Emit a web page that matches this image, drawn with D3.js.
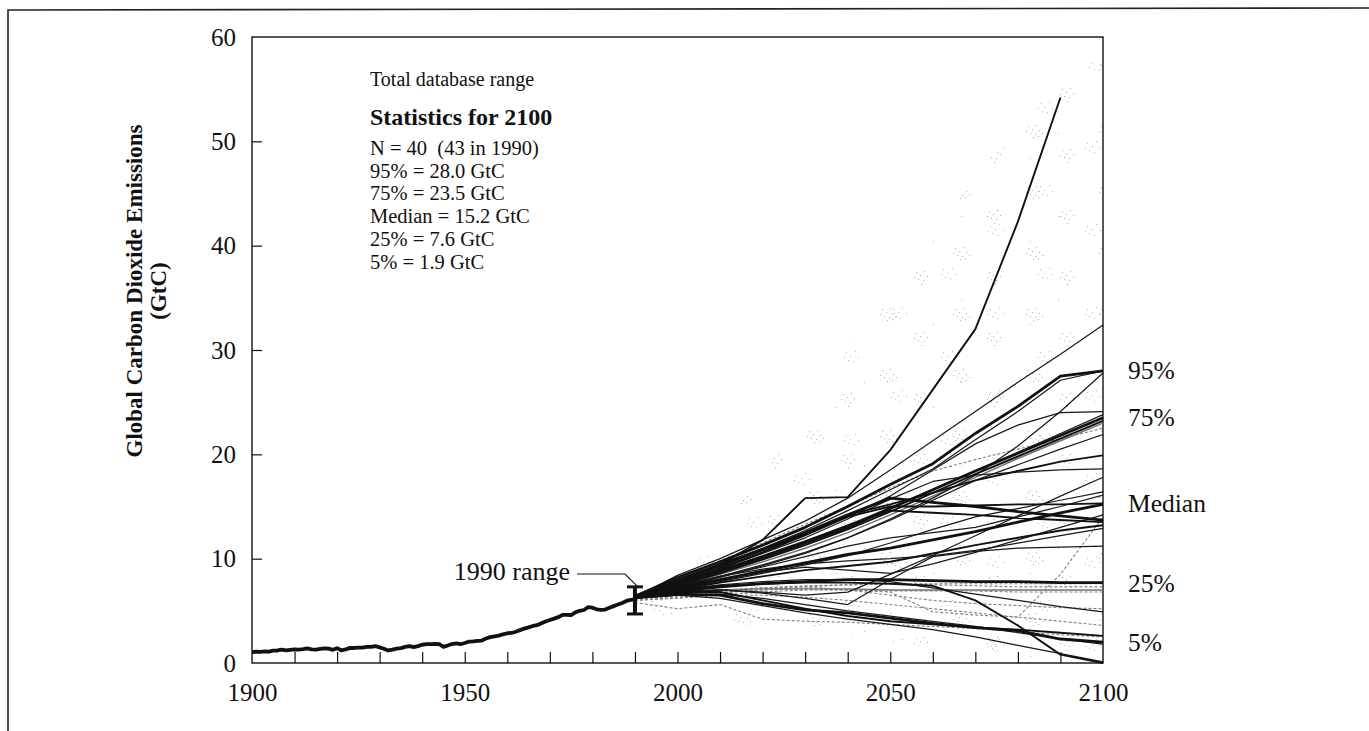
<!DOCTYPE html>
<html><head><meta charset="utf-8">
<script src="https://cdn.jsdelivr.net/npm/d3@7"></script>
<style>
html,body{margin:0;padding:0;background:#fff;}
svg{display:block;}
text{font-family:"Liberation Serif","Times New Roman",serif;fill:#111;white-space:pre;}
</style></head>
<body><svg id="c" width="1369" height="731"></svg>
<script>
// ---------- data ----------
const histYears = d3.range(1900, 1991);
const histValues = [1.05,1.08,1.06,1.12,1.10,1.18,1.20,1.28,1.22,1.26,
 1.30,1.28,1.33,1.40,1.30,1.28,1.36,1.40,1.38,1.26,
 1.42,1.22,1.30,1.45,1.44,1.48,1.47,1.55,1.54,1.62,
 1.50,1.36,1.20,1.28,1.38,1.42,1.55,1.62,1.52,1.62,
 1.75,1.80,1.80,1.82,1.80,1.55,1.68,1.82,1.88,1.80,
 1.92,2.05,2.08,2.12,2.15,2.35,2.48,2.55,2.62,2.75,
 2.85,2.88,3.00,3.15,3.30,3.42,3.55,3.62,3.80,3.98,
 4.12,4.25,4.40,4.62,4.62,4.60,4.85,5.00,5.08,5.35,
 5.30,5.15,5.10,5.12,5.30,5.45,5.60,5.75,5.95,6.05,6.10];

const scenYears = [1990,2000,2010,2020,2030,2040,2050,2060,2070,2080,2090,2100];
const scenarioValues = [
 [6.2,7.8,9.4,11.8,15.8,15.9,20.4,26.2,32.0,42.3,54.2,null],
 [6.3,8.4,10.0,11.8,13.6,15.8,18.5,21.3,24.1,26.9,29.6,32.4],
 [6.4,8.2,9.7,11.3,13.0,15.0,17.1,19.1,22.0,24.6,27.5,28.0],
 [6.3,8.0,9.5,11.0,12.7,14.6,16.6,18.6,21.4,24.1,27.1,28.0],
 [6.2,7.2,8.3,9.4,10.6,12.0,13.8,15.8,18.0,20.8,24.1,27.8],
 [6.3,7.9,9.2,10.6,12.2,14.0,16.0,18.5,21.0,22.8,24.0,24.1],
 [6.3,7.6,8.9,10.3,11.7,13.2,14.9,16.6,18.4,20.2,22.0,23.8],
 [6.3,7.5,8.8,10.1,11.5,13.0,14.8,16.6,18.4,20.1,21.8,23.5],
 [6.2,7.4,8.6,9.9,11.3,12.8,14.5,16.3,18.1,19.8,21.5,23.2],
 [6.2,7.3,8.5,9.7,11.0,12.5,14.2,16.0,17.8,19.6,21.3,23.0],
 [6.2,7.2,8.2,9.3,10.5,12.0,13.7,15.6,17.5,19.0,20.5,21.9],
 [6.3,7.8,9.3,10.8,12.3,14.2,15.2,16.3,17.5,18.4,19.3,19.9],
 [6.3,7.7,9.0,10.5,12.0,13.8,15.7,17.4,18.0,18.3,18.5,18.6],
 [6.3,6.8,7.0,6.8,6.5,6.8,8.5,10.3,12.2,14.1,16.0,17.8],
 [6.2,7.0,7.8,8.6,9.4,10.3,11.5,12.8,14.0,14.8,15.6,16.4],
 [6.3,7.3,8.3,9.2,10.2,11.2,12.0,12.5,13.0,14.0,15.0,16.1],
 [6.3,7.2,8.0,8.8,9.6,10.4,11.0,11.8,12.6,13.5,14.4,15.2],
 [6.2,6.5,6.8,7.0,7.1,7.0,6.8,4.9,4.6,4.4,8.5,14.0],
 [6.4,7.9,9.4,10.9,12.5,14.2,15.8,15.4,15.0,14.5,14.1,13.7],
 [6.3,7.6,8.9,10.2,11.6,13.2,14.6,14.4,14.2,13.9,13.7,13.5],
 [6.3,7.0,7.7,8.3,8.9,9.3,9.7,10.5,11.3,12.0,12.7,13.2],
 [6.3,6.9,7.0,6.7,6.2,5.6,8.0,10.2,10.7,11.0,11.1,11.2],
 [6.3,6.9,7.3,7.6,7.8,8.0,8.0,7.9,7.8,7.8,7.7,7.7],
 [6.2,6.6,6.9,7.2,7.4,7.5,7.6,7.6,7.6,7.6,7.6,7.6],
 [6.1,6.4,6.7,7.0,7.3,7.5,7.6,7.5,7.4,7.3,7.3,7.3],
 [6.2,6.7,7.0,7.1,7.1,7.1,7.0,7.0,7.0,7.0,7.0,7.0],
 [6.0,6.2,6.5,6.8,7.0,7.0,6.9,6.9,6.9,6.8,6.8,6.8],
 [6.3,7.0,7.5,7.8,8.0,8.0,7.8,7.2,6.6,6.0,5.4,4.9],
 [6.3,6.8,6.8,6.0,5.2,4.5,4.0,3.7,3.4,3.2,2.9,2.6],
 [6.3,6.6,6.5,5.7,5.1,4.8,4.3,3.8,3.4,3.1,2.3,2.0],
 [6.2,6.5,6.6,6.2,5.6,5.0,4.5,4.0,3.5,2.9,2.3,1.8],
 [6.3,7.0,7.4,7.6,7.7,7.7,7.6,7.4,6.0,3.6,0.8,0.0],
 [6.2,6.5,6.2,5.5,4.8,4.2,3.7,3.2,2.5,1.7,0.9,0.1],
 [5.8,5.2,5.6,4.2,4.0,3.9,3.7,3.5,3.3,3.0,2.7,2.5],
 [6.2,6.6,7.0,7.2,7.3,7.0,6.5,6.0,5.7,5.5,5.3,5.2],
 [6.3,7.4,8.3,9.0,9.5,9.8,10.0,10.3,10.8,11.5,12.2,12.9],
 [6.4,8.0,9.8,11.5,13.3,15.0,16.8,18.4,19.5,20.5,21.5,22.5],
 [6.3,7.7,9.1,10.6,12.3,14.0,15.0,15.0,15.1,15.2,15.2,15.3],
 [6.3,7.1,7.9,8.7,9.2,8.9,8.6,9.5,10.6,11.8,13.0,14.2],
 [6.0,6.3,6.5,6.5,6.3,6.0,5.6,5.2,4.8,4.4,4.0,3.6]
];
const scenarioStyles = ["medium","thin","thick","thin","thin","thin","thin","thick","medium","gray",
 "thin","medium","thin","thin","thin","thin","thick","dash","thick","medium",
 "medium","thin","thick","dash","dash","gray","dash","thin","medium","thick",
 "thin","medium","thin","dash","dash","thin","dash","medium","thin","dash"];

const dbRangeUpper = [7.3,9.5,13,18,24,30,37,41,47,51,56,58];
const dbRangeLower = [4.7,4.5,4.0,3.5,3.0,2.5,2.0,1.5,1.0,0.5,0,0];

const range1990 = {year:1990, low:4.7, high:7.3};

const yTicks = [0,10,20,30,40,50,60];
const xTicks = d3.range(1900, 2101, 10);
const xLabels = [1900,1950,2000,2050,2100];

const statsLines = ["N = 40  (43 in 1990)","95% = 28.0 GtC","75% = 23.5 GtC","Median = 15.2 GtC","25% = 7.6 GtC","5% = 1.9 GtC"];
const pctLabels = [{t:"95%",v:28.0},{t:"75%",v:23.5},{t:"Median",v:15.2},{t:"25%",v:7.6},{t:"5%",v:1.9}];

// ---------- drawing ----------
const svg = d3.select("#c");
const x = d3.scaleLinear().domain([1900,2100]).range([252,1103]);
const y = d3.scaleLinear().domain([0,60]).range([663,37]);

// outer scan frame
svg.append("path").attr("d","M8,731 L8,10 L1369,8").attr("fill","none").attr("stroke","#222").attr("stroke-width",1.6);

// stipple patterns (two tiles of different size overlap so the patches look irregular)
const defs = svg.append("defs");
function makePattern(id, w, h, dots, col){
  const p = defs.append("pattern").attr("id",id).attr("patternUnits","userSpaceOnUse").attr("width",w).attr("height",h);
  dots.forEach(d=>p.append("rect").attr("x",d[0]).attr("y",d[1]).attr("width",1.1).attr("height",1.1).attr("fill",col));
}
makePattern("stipA",73,61,[[6,4],[10,7],[14,3],[8,11],[13,12],[17,8],[4,9],[11,15],[16,14],[20,11],
 [40,28],[44,31],[48,27],[42,35],[47,36],[51,32],[38,33],[45,40]],"#b4b4b4");
makePattern("stipB",97,83,[[20,60],[25,63],[29,58],[22,67],[27,69],[33,64],[18,65],
 [70,20],[74,24],[79,19],[72,28],[77,29],[82,25],[68,25],[60,75],[88,50]],"#bdbdbd");
const area = d3.area().x((d,i)=>x(scenYears[i])).y0((d,i)=>y(dbRangeLower[i])).y1(d=>y(d));
svg.append("path").datum(dbRangeUpper).attr("d",area).attr("fill","url(#stipA)");
svg.append("path").datum(dbRangeUpper).attr("d",area).attr("fill","url(#stipB)");

// axes
const gy = svg.append("g").attr("transform","translate(252,0)")
  .call(d3.axisLeft(y).tickValues(yTicks).tickSize(-10).tickPadding(16));
const gx = svg.append("g").attr("transform","translate(0,663)")
  .call(d3.axisBottom(x).tickValues(xTicks).tickSize(-11).tickPadding(20)
    .tickFormat(d=>xLabels.includes(d)?String(d):""));
[gx,gy].forEach(g=>{
  g.select(".domain").remove();
  g.selectAll(".tick line").attr("stroke","#111").attr("stroke-width",1.2);
  g.selectAll(".tick text").attr("font-family","Liberation Serif").attr("font-size",25).attr("fill","#111");
});
gy.selectAll(".tick").filter(d=>d===0||d===60).select("line").remove();
gx.selectAll(".tick").filter(d=>d===1900||d===2100).select("line").remove();

// frame
svg.append("rect").attr("x",x(1900)).attr("y",y(60)).attr("width",x(2100)-x(1900)).attr("height",y(0)-y(60))
  .attr("fill","none").attr("stroke","#111").attr("stroke-width",1.4);

// scenarios
const styleMap = {
  thick:{w:2.8,c:"#111",d:null},
  medium:{w:1.9,c:"#111",d:null},
  thin:{w:1.25,c:"#1a1a1a",d:null},
  gray:{w:1.4,c:"#707070",d:null},
  dash:{w:1.1,c:"#808080",d:"3,2"}
};
const line = d3.line().defined(d=>d!=null).x((d,i)=>x(scenYears[i])).y(d=>y(d));
const order = ["dash","gray","thin","medium","thick"];
const idx = d3.range(scenarioValues.length).sort((a,b)=>order.indexOf(scenarioStyles[a])-order.indexOf(scenarioStyles[b]));
svg.append("g").selectAll("path").data(idx).join("path")
  .attr("d",i=>line(scenarioValues[i]))
  .attr("fill","none")
  .attr("stroke",i=>styleMap[scenarioStyles[i]].c)
  .attr("stroke-width",i=>styleMap[scenarioStyles[i]].w)
  .attr("stroke-dasharray",i=>styleMap[scenarioStyles[i]].d)
  .attr("stroke-linejoin","round");

// historical
const hline = d3.line().x((d,i)=>x(histYears[i])).y(d=>y(d));
svg.append("path").datum(histValues).attr("d",hline).attr("fill","none").attr("stroke","#111").attr("stroke-width",3.8).attr("stroke-linejoin","round");

// 1990 range bar
const bx = x(range1990.year);
svg.append("line").attr("x1",bx).attr("x2",bx).attr("y1",y(range1990.high)).attr("y2",y(range1990.low)).attr("stroke","#111").attr("stroke-width",4);
[range1990.high, range1990.low].forEach(v=>{
  svg.append("line").attr("x1",bx-8).attr("x2",bx+8).attr("y1",y(v)).attr("y2",y(v)).attr("stroke","#111").attr("stroke-width",3);
});
svg.append("text").attr("x",570).attr("y",580).attr("text-anchor","end").attr("font-size",26).text("1990 range");
svg.append("path").attr("d",`M577,574 L625,574 L${bx+2},${y(range1990.high)-1}`).attr("fill","none").attr("stroke","#111").attr("stroke-width",1.1);

// annotations
svg.append("text").attr("x",370).attr("y",86).attr("font-size",20).text("Total database range");
svg.append("text").attr("x",370).attr("y",125).attr("font-size",24).attr("font-weight","bold").text("Statistics for 2100");
svg.selectAll(".stat").data(statsLines).join("text").attr("class","stat")
  .attr("x",370).attr("y",(d,i)=>155+i*22.7).attr("font-size",20.5).text(d=>d);

svg.selectAll(".pct").data(pctLabels).join("text").attr("class","pct")
  .attr("x",1128).attr("y",d=>y(d.v)+8).attr("font-size",25.5).text(d=>d.t);

// y-axis title
const yt = svg.append("text").attr("transform","translate(142,291) rotate(-90)").attr("text-anchor","middle")
  .attr("font-weight","bold").attr("font-size",23);
yt.append("tspan").attr("x",0).attr("dy",0).text("Global Carbon Dioxide Emissions");
yt.append("tspan").attr("x",0).attr("dy",24).text("(GtC)");
</script></body></html>
